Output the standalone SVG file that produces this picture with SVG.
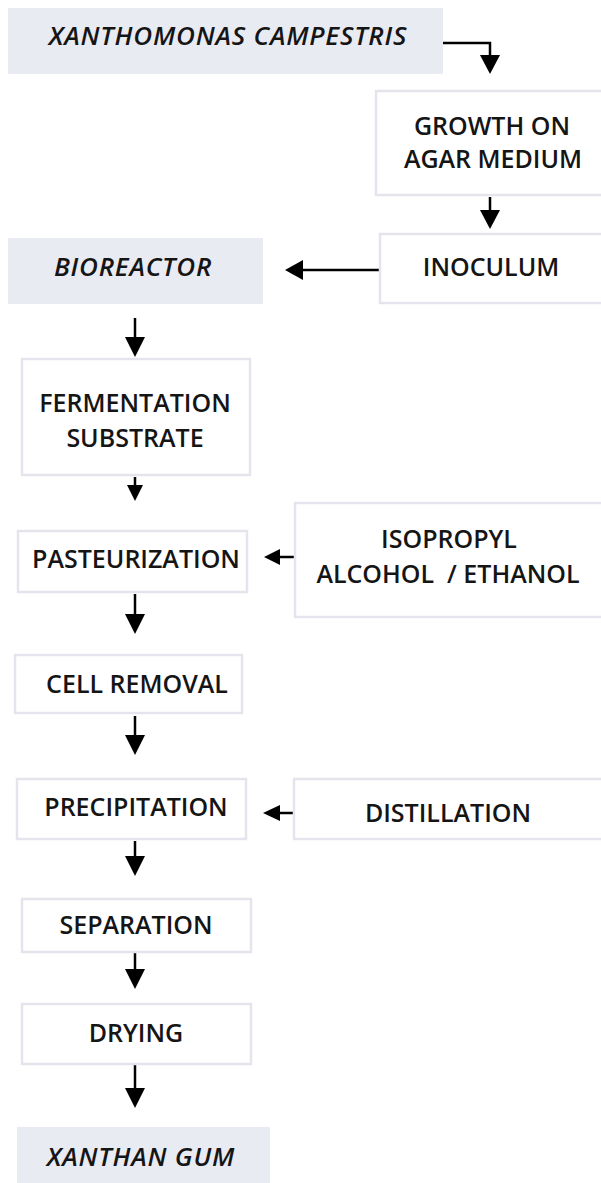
<svg xmlns="http://www.w3.org/2000/svg" width="601" height="1183" viewBox="0 0 601 1183">
<style>
.bg{fill:#ffffff}
.hl{fill:#e9ebf3}
.bx{fill:#ffffff;stroke:#e5e4ec;stroke-width:2.5}
.t{font-family:"Open Sans","Noto Sans",sans-serif;font-weight:600;font-size:25px;fill:#151515;text-anchor:middle}
.i{font-style:italic;font-weight:600;font-size:26px;letter-spacing:0.8px}
.ln{stroke:#000;stroke-width:2.5;fill:none}
.ah{fill:#000}
</style>
<rect class="bg" x="0" y="0" width="601" height="1183"/>
<g id="connectors">
<path class="ln" d="M443 43 H490 V58"/>
<polygon class="ah" points="480,55 500,55 490,74"/>
<path class="ln" d="M490 197 V213"/>
<polygon class="ah" points="480,210 500,210 490,229"/>
<path class="ln" d="M379 270 H300"/>
<polygon class="ah" points="303,260 303,280 285,270"/>
<path class="ln" d="M135 318 V340"/>
<polygon class="ah" points="125,337 145,337 135,357"/>
<path class="ln" d="M135 477 V488"/>
<polygon class="ah" points="127,485 143,485 135,501"/>
<path class="ln" d="M294 557 H277"/>
<polygon class="ah" points="280,549 280,565 264,557"/>
<path class="ln" d="M135 594 V617"/>
<polygon class="ah" points="125,614 145,614 135,634"/>
<path class="ln" d="M135 716 V738"/>
<polygon class="ah" points="125,735 145,735 135,755"/>
<path class="ln" d="M294 813 H277"/>
<polygon class="ah" points="280,805 280,821 263,813"/>
<path class="ln" d="M135 841 V859"/>
<polygon class="ah" points="125,856 145,856 135,876"/>
<path class="ln" d="M135 953 V972"/>
<polygon class="ah" points="125,969 145,969 135,989"/>
<path class="ln" d="M135 1065 V1091"/>
<polygon class="ah" points="125,1088 145,1088 135,1108"/>
</g>
<g id="xanthomonas">
<rect class="hl" x="8" y="8" width="435" height="66"/>
<text class="t i" x="228" y="45">XANTHOMONAS CAMPESTRIS</text>
</g>
<g id="growth">
<rect class="bx" x="376" y="91" width="230" height="104"/>
<text class="t" x="492" y="135">GROWTH ON</text>
<text class="t" x="493" y="168">AGAR MEDIUM</text>
</g>
<g id="inoculum">
<rect class="bx" x="380" y="234" width="226" height="69"/>
<text class="t" x="491" y="276">INOCULUM</text>
</g>
<g id="bioreactor">
<rect class="hl" x="8" y="238" width="255" height="66"/>
<text class="t i" x="133" y="276">BIOREACTOR</text>
</g>
<g id="fermentation">
<rect class="bx" x="22" y="359" width="228" height="116"/>
<text class="t" x="135" y="412">FERMENTATION</text>
<text class="t" x="135" y="447">SUBSTRATE</text>
</g>
<g id="pasteurization">
<rect class="bx" x="18" y="531" width="229" height="61"/>
<text class="t" x="136" y="568">PASTEURIZATION</text>
</g>
<g id="isopropyl">
<rect class="bx" x="295" y="503" width="311" height="114"/>
<text class="t" x="449" y="548">ISOPROPYL</text>
<text class="t" x="448" y="583" xml:space="preserve" style="white-space:pre">ALCOHOL  / ETHANOL</text>
</g>
<g id="cell-removal">
<rect class="bx" x="15" y="655" width="227" height="58"/>
<text class="t" x="137" y="693">CELL REMOVAL</text>
</g>
<g id="precipitation">
<rect class="bx" x="17" y="779" width="229" height="60"/>
<text class="t" x="136" y="816">PRECIPITATION</text>
</g>
<g id="distillation">
<rect class="bx" x="294" y="779" width="312" height="60"/>
<text class="t" x="448" y="822">DISTILLATION</text>
</g>
<g id="separation">
<rect class="bx" x="22" y="899" width="229" height="53"/>
<text class="t" x="136" y="934">SEPARATION</text>
</g>
<g id="drying">
<rect class="bx" x="22" y="1004" width="229" height="60"/>
<text class="t" x="136" y="1042">DRYING</text>
</g>
<g id="xanthan-gum">
<rect class="hl" x="17" y="1127" width="253" height="60"/>
<text class="t i" x="141" y="1166">XANTHAN GUM</text>
</g>
</svg>
